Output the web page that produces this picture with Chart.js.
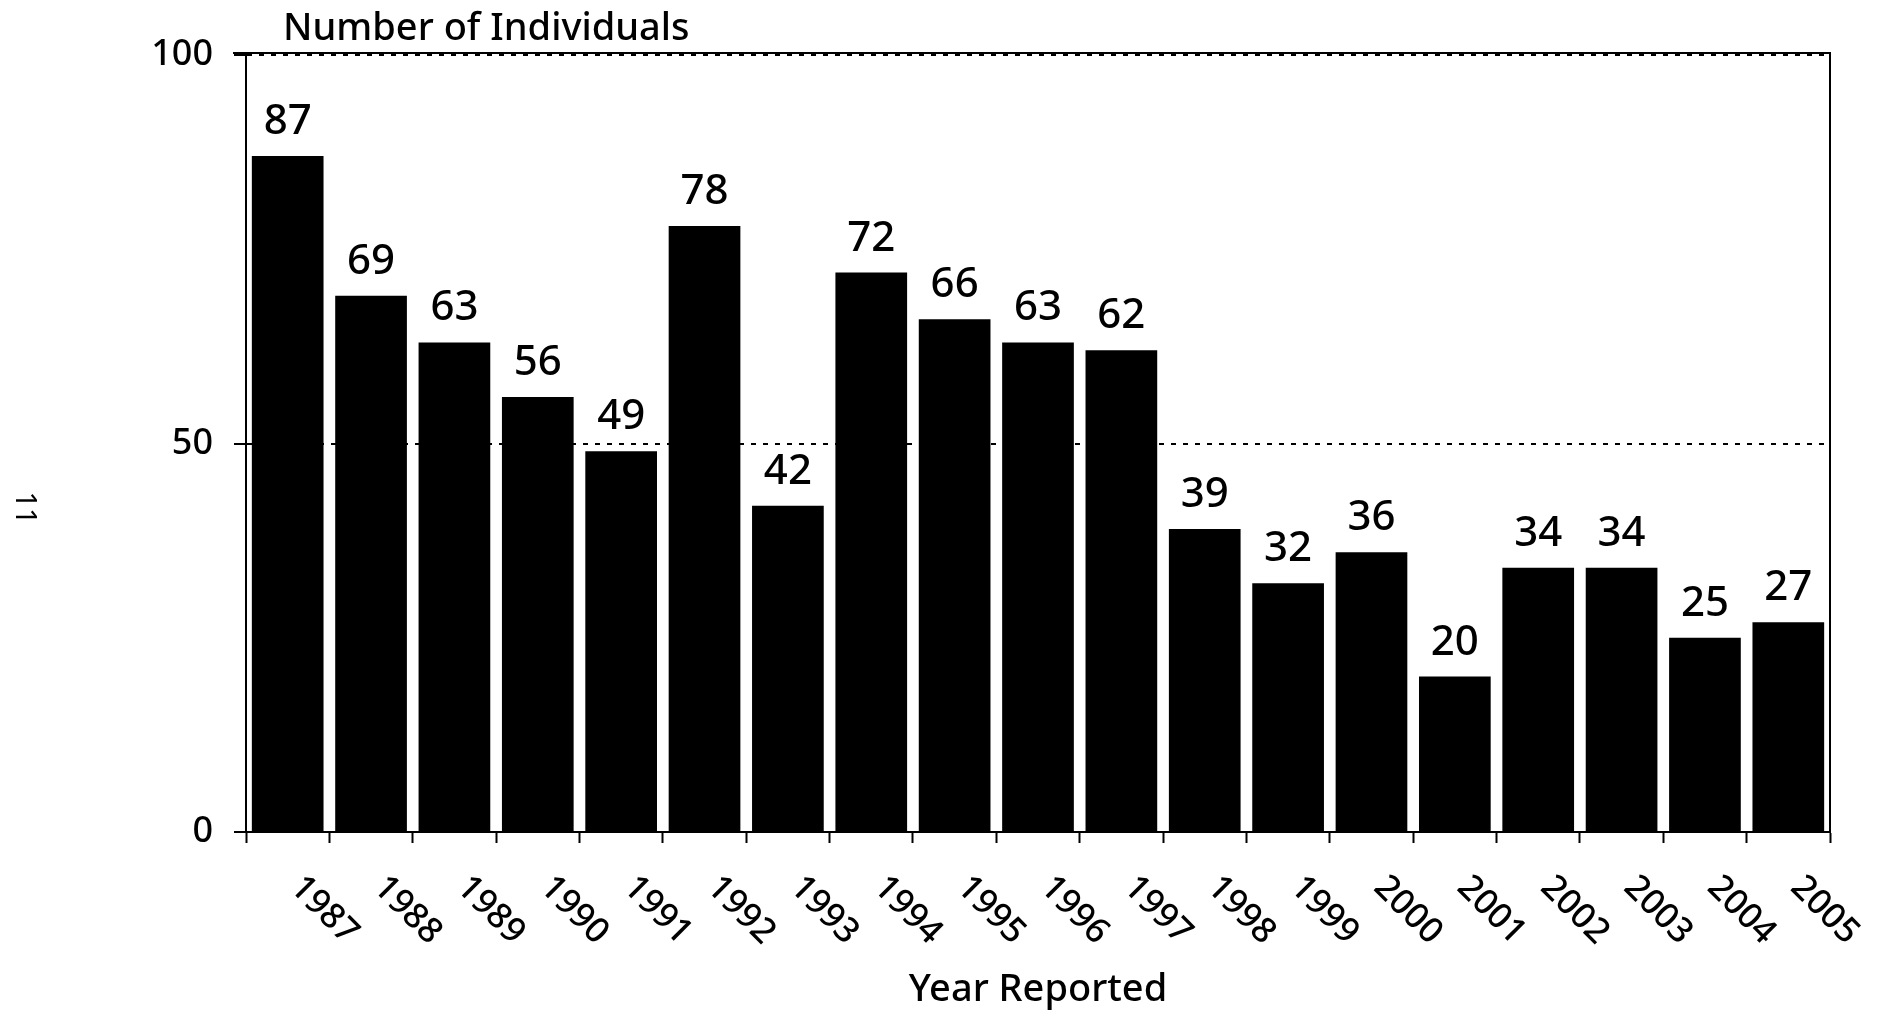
<!DOCTYPE html>
<html>
<head>
<meta charset="utf-8">
<script src="https://cdn.jsdelivr.net/npm/chart.js@4.4.1/dist/chart.umd.min.js"></script>
<style>
    html, body { margin: 0; padding: 0; background: #fff; }
    #wrap { width: 1896px; height: 1016px; }
</style>
</head>
<body>
<div id="wrap"><canvas id="yearChart" width="1896" height="1016"></canvas></div>
<script>
const years = ['1987', '1988', '1989', '1990', '1991', '1992', '1993', '1994', '1995', '1996',
               '1997', '1998', '1999', '2000', '2001', '2002', '2003', '2004', '2005'];
const individuals = [87, 69, 63, 56, 49, 78, 42, 72, 66, 63, 62, 39, 32, 36, 20, 34, 34, 25, 27];
const yTicks = [0, 50, 100];
const chartTitle = 'Number of Individuals';
const xTitle = 'Year Reported';
const pageNumber = '11';

const FONT = '"Noto Sans", "Open Sans", sans-serif';
const W = '500 ';

// labels, titre et cadre dessinés après le graphique
const extrasPlugin = {
    id: 'extras',
    afterDraw(chart) {
        const ctx = chart.ctx;
        const area = chart.chartArea;
        const xScale = chart.scales.x;
        const meta = chart.getDatasetMeta(0);

        ctx.save();
        ctx.fillStyle = '#000';
        ctx.strokeStyle = '#000';

        // cadre haut et droit (juste au-dessus de la ligne pointillée de 100)
        const topY = area.top - 2;
        ctx.lineWidth = 2;
        ctx.beginPath();
        ctx.moveTo(area.left - 13, topY);
        ctx.lineTo(area.right, topY);
        ctx.lineTo(area.right, area.bottom);
        ctx.stroke();

        // valeurs au-dessus des barres
        ctx.font = W + '42px ' + FONT;
        ctx.textAlign = 'center';
        ctx.textBaseline = 'alphabetic';
        meta.data.forEach((bar, i) => {
            ctx.fillText(String(individuals[i]), bar.x, bar.y - 22);
        });

        // années en diagonale
        ctx.font = W + '35px ' + FONT;
        ctx.textAlign = 'left';
        ctx.textBaseline = 'middle';
        years.forEach((year, i) => {
            const x = xScale.getPixelForValue(i) + 8;
            const y = area.bottom + 50;
            ctx.save();
            ctx.translate(x, y);
            ctx.rotate(Math.PI / 4);
            ctx.fillText(year, 0, 0);
            ctx.restore();
        });

        // titre de l'axe vertical
        ctx.font = W + '38px ' + FONT;
        ctx.textAlign = 'left';
        ctx.textBaseline = 'alphabetic';
        ctx.fillText(chartTitle, area.left + 37, 40);

        // numéro de page
        ctx.font = '29px ' + FONT;
        ctx.textAlign = 'center';
        ctx.textBaseline = 'middle';
        ctx.save();
        ctx.translate(24, 508);
        ctx.rotate(Math.PI / 2);
        ctx.fillText(pageNumber, 0, 0);
        ctx.restore();

        ctx.restore();
    }
};

function createYearChart() {
    const ctx = document.getElementById('yearChart');
    new Chart(ctx, {
        type: 'bar',
        data: {
            labels: years,
            datasets: [{
                label: chartTitle,
                data: individuals,
                backgroundColor: '#000',
                borderWidth: 0,
                categoryPercentage: 1.0,
                barPercentage: 0.86
            }]
        },
        options: {
            responsive: false,
            animation: false,
            devicePixelRatio: 1,
            layout: {
                padding: { top: 55, right: 66, left: 0, bottom: 0 }
            },
            plugins: {
                legend: { display: false },
                tooltip: { enabled: false },
                title: { display: false }
            },
            scales: {
                x: {
                    offset: true,
                    afterFit: scale => { scale.height = 184; },
                    grid: {
                        offset: true,
                        drawOnChartArea: false,
                        drawTicks: true,
                        tickLength: 11,
                        tickWidth: 2,
                        tickColor: '#000'
                    },
                    border: { display: true, color: '#000', width: 2 },
                    ticks: { display: false },
                    title: {
                        display: true,
                        text: xTitle,
                        color: '#000',
                        font: { family: FONT, size: 38, weight: 500 },
                        padding: { top: 0, bottom: 3 }
                    }
                },
                y: {
                    min: 0,
                    max: 100,
                    afterFit: scale => { scale.width = 246; },
                    afterBuildTicks: scale => {
                        scale.ticks = yTicks.map(v => ({ value: v }));
                    },
                    grid: {
                        color: c => (c.tick && c.tick.value === 0) ? 'rgba(0,0,0,0)' : '#000',
                        lineWidth: 2,
                        drawTicks: true,
                        tickLength: 12,
                        tickWidth: 2,
                        tickColor: '#000',
                        tickBorderDash: []
                    },
                    border: { display: true, color: '#000', width: 2, dash: [5, 7] },
                    ticks: {
                        color: '#000',
                        padding: 21,
                        font: { family: FONT, size: 36, weight: 500 }
                    }
                }
            }
        },
        plugins: [extrasPlugin]
    });
}

createYearChart();
</script>
</body>
</html>
